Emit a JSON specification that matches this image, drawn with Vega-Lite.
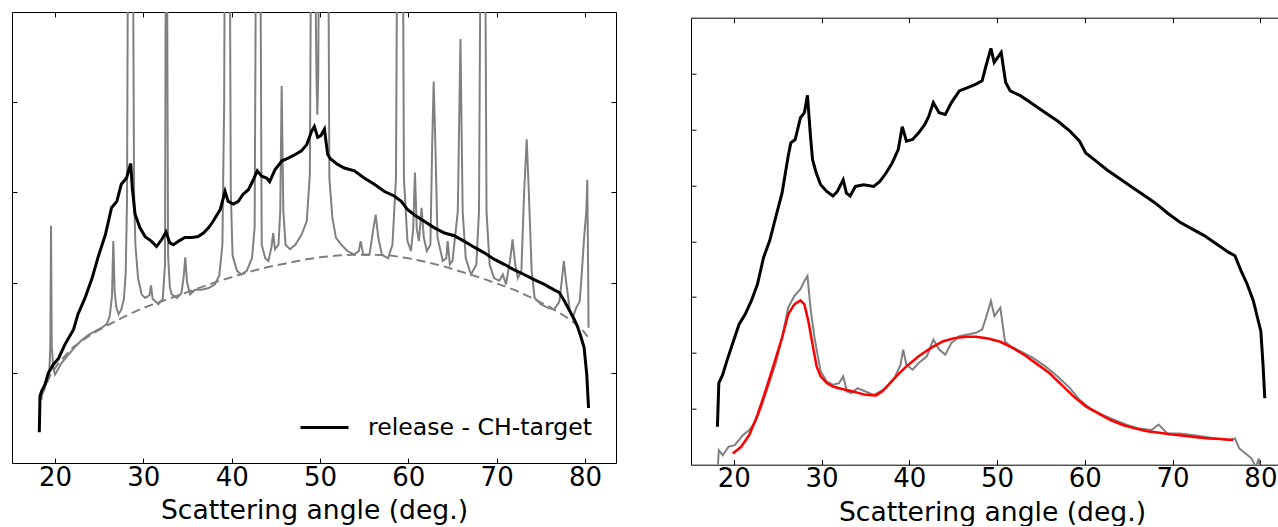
{
  "$schema": "https://vega.github.io/schema/vega-lite/v6.json",
  "padding": {"left": 11, "top": 11, "right": 0, "bottom": 0},
  "autosize": {"type": "pad"},
  "config": {
    "view": {"stroke": null},
    "font": "DejaVu Sans",
    "axis": {"grid": false, "domainColor": "#000", "domainWidth": 1, "tickColor": "#000", "tickSize": -5, "tickWidth": 1, "labelFont": "DejaVu Sans", "labelColor": "#000", "titleFont": "DejaVu Sans", "titleColor": "#000", "titleFontWeight": "normal"},
    "concat": {"spacing": 73},
    "legend": {"orient": "bottom-right", "offset": 23, "padding": 0, "symbolType": "stroke", "symbolSize": 2304, "symbolStrokeWidth": 3, "labelFontSize": 23.6, "labelFont": "DejaVu Sans", "labelColor": "#000", "labelOffset": 18, "labelLimit": 400}
  },
  "resolve": {"scale": {"color": "independent"}, "legend": {"color": "independent"}},
  "datasets": {
    "L_dash": [
      {"angle": 18.5, "intensity": 0.75}, {"angle": 19.5, "intensity": 0.98}, {"angle": 20.5, "intensity": 1.12}, {"angle": 22, "intensity": 1.28},
      {"angle": 24, "intensity": 1.42}, {"angle": 26, "intensity": 1.53}, {"angle": 28, "intensity": 1.63}, {"angle": 30, "intensity": 1.72},
      {"angle": 32, "intensity": 1.79}, {"angle": 34, "intensity": 1.86}, {"angle": 36, "intensity": 1.93}, {"angle": 38, "intensity": 2.0},
      {"angle": 40, "intensity": 2.06}, {"angle": 42, "intensity": 2.12}, {"angle": 44, "intensity": 2.17}, {"angle": 46, "intensity": 2.21},
      {"angle": 48, "intensity": 2.25}, {"angle": 50, "intensity": 2.28}, {"angle": 52, "intensity": 2.3}, {"angle": 54, "intensity": 2.31},
      {"angle": 56, "intensity": 2.31}, {"angle": 58, "intensity": 2.3}, {"angle": 60, "intensity": 2.27}, {"angle": 62, "intensity": 2.23},
      {"angle": 64, "intensity": 2.18}, {"angle": 66, "intensity": 2.12}, {"angle": 68, "intensity": 2.06}, {"angle": 70, "intensity": 1.99},
      {"angle": 72, "intensity": 1.92}, {"angle": 74, "intensity": 1.83}, {"angle": 76, "intensity": 1.73}, {"angle": 78, "intensity": 1.61},
      {"angle": 79.5, "intensity": 1.5}, {"angle": 80.3, "intensity": 1.4}
    ],
    "L_gray": [
      {"angle": 18.45, "intensity": 0.7}, {"angle": 18.6, "intensity": 0.8}, {"angle": 18.87, "intensity": 0.85}, {"angle": 19.1, "intensity": 0.9},
      {"angle": 19.35, "intensity": 1.0}, {"angle": 19.47, "intensity": 1.3}, {"angle": 19.55, "intensity": 2.63}, {"angle": 19.63, "intensity": 1.3},
      {"angle": 19.8, "intensity": 1.05}, {"angle": 20.0, "intensity": 0.98}, {"angle": 20.75, "intensity": 1.11}, {"angle": 21.5, "intensity": 1.2},
      {"angle": 22.3, "intensity": 1.29}, {"angle": 23.0, "intensity": 1.36}, {"angle": 23.8, "intensity": 1.42}, {"angle": 24.5, "intensity": 1.46},
      {"angle": 25.3, "intensity": 1.5}, {"angle": 25.85, "intensity": 1.54}, {"angle": 26.2, "intensity": 1.63}, {"angle": 26.45, "intensity": 1.85},
      {"angle": 26.6, "intensity": 2.46}, {"angle": 26.75, "intensity": 1.9}, {"angle": 26.95, "intensity": 1.72}, {"angle": 27.2, "intensity": 1.65},
      {"angle": 27.5, "intensity": 1.7}, {"angle": 27.8, "intensity": 1.82}, {"angle": 28.0, "intensity": 2.1}, {"angle": 28.15, "intensity": 2.9},
      {"angle": 28.3, "intensity": 7}, {"angle": 28.5, "intensity": 6}, {"angle": 28.75, "intensity": 7.5}, {"angle": 28.95, "intensity": 3.0},
      {"angle": 29.1, "intensity": 2.42}, {"angle": 29.4, "intensity": 2.05}, {"angle": 29.8, "intensity": 1.87}, {"angle": 30.2, "intensity": 1.83},
      {"angle": 30.7, "intensity": 1.86}, {"angle": 30.87, "intensity": 1.97}, {"angle": 31.05, "intensity": 1.82}, {"angle": 31.7, "intensity": 1.76},
      {"angle": 32.2, "intensity": 1.82}, {"angle": 32.45, "intensity": 2.2}, {"angle": 32.6, "intensity": 8}, {"angle": 32.8, "intensity": 2.3},
      {"angle": 33.0, "intensity": 1.95}, {"angle": 33.2, "intensity": 1.87}, {"angle": 33.8, "intensity": 1.83}, {"angle": 34.3, "intensity": 1.88},
      {"angle": 34.55, "intensity": 2.05}, {"angle": 34.75, "intensity": 2.28}, {"angle": 34.95, "intensity": 2.0}, {"angle": 35.3, "intensity": 1.87},
      {"angle": 35.85, "intensity": 1.92}, {"angle": 36.6, "intensity": 1.92}, {"angle": 37.4, "intensity": 1.94}, {"angle": 38.1, "intensity": 1.98},
      {"angle": 38.6, "intensity": 2.08}, {"angle": 38.95, "intensity": 2.42}, {"angle": 39.15, "intensity": 4}, {"angle": 39.3, "intensity": 8},
      {"angle": 39.5, "intensity": 5}, {"angle": 39.7, "intensity": 8}, {"angle": 39.9, "intensity": 3}, {"angle": 40.1, "intensity": 2.3},
      {"angle": 40.6, "intensity": 2.13}, {"angle": 41.1, "intensity": 2.09}, {"angle": 41.7, "intensity": 2.13}, {"angle": 42.3, "intensity": 2.27},
      {"angle": 42.6, "intensity": 2.61}, {"angle": 42.85, "intensity": 8}, {"angle": 43.0, "intensity": 7}, {"angle": 43.15, "intensity": 8},
      {"angle": 43.4, "intensity": 2.42}, {"angle": 43.8, "intensity": 2.27}, {"angle": 44.15, "intensity": 2.24}, {"angle": 44.5, "intensity": 2.39},
      {"angle": 44.7, "intensity": 2.55}, {"angle": 44.9, "intensity": 2.37}, {"angle": 45.3, "intensity": 2.42}, {"angle": 45.5, "intensity": 2.79},
      {"angle": 45.66, "intensity": 4.18}, {"angle": 45.85, "intensity": 2.79}, {"angle": 46.1, "intensity": 2.42}, {"angle": 46.6, "intensity": 2.37},
      {"angle": 47.2, "intensity": 2.42}, {"angle": 47.9, "intensity": 2.53}, {"angle": 48.5, "intensity": 2.68}, {"angle": 48.85, "intensity": 3.2},
      {"angle": 49.05, "intensity": 7}, {"angle": 49.35, "intensity": 6.5}, {"angle": 49.6, "intensity": 4.3}, {"angle": 49.7, "intensity": 3.86},
      {"angle": 49.8, "intensity": 4.3}, {"angle": 50.0, "intensity": 8}, {"angle": 50.3, "intensity": 5.5}, {"angle": 50.6, "intensity": 6},
      {"angle": 50.85, "intensity": 8}, {"angle": 51.06, "intensity": 3.16}, {"angle": 51.4, "intensity": 2.72}, {"angle": 51.8, "intensity": 2.5},
      {"angle": 52.4, "intensity": 2.42}, {"angle": 53.1, "intensity": 2.35}, {"angle": 53.9, "intensity": 2.31}, {"angle": 54.4, "intensity": 2.35},
      {"angle": 54.6, "intensity": 2.46}, {"angle": 54.9, "intensity": 2.31}, {"angle": 55.6, "intensity": 2.31}, {"angle": 56.0, "intensity": 2.57},
      {"angle": 56.3, "intensity": 2.75}, {"angle": 56.6, "intensity": 2.5}, {"angle": 57.0, "intensity": 2.31}, {"angle": 57.7, "intensity": 2.27},
      {"angle": 58.2, "intensity": 2.42}, {"angle": 58.6, "intensity": 3.16}, {"angle": 58.85, "intensity": 8}, {"angle": 59.05, "intensity": 6},
      {"angle": 59.3, "intensity": 8}, {"angle": 59.5, "intensity": 3.16}, {"angle": 59.9, "intensity": 2.46}, {"angle": 60.3, "intensity": 2.35},
      {"angle": 60.55, "intensity": 2.6}, {"angle": 60.75, "intensity": 3.22}, {"angle": 60.95, "intensity": 2.6}, {"angle": 61.2, "intensity": 2.46},
      {"angle": 61.5, "intensity": 2.83}, {"angle": 61.75, "intensity": 2.5}, {"angle": 62.1, "intensity": 2.35}, {"angle": 62.5, "intensity": 2.42},
      {"angle": 62.7, "intensity": 3.53}, {"angle": 62.87, "intensity": 4.23}, {"angle": 63.06, "intensity": 3.53}, {"angle": 63.3, "intensity": 2.5},
      {"angle": 63.9, "intensity": 2.24}, {"angle": 64.3, "intensity": 2.27}, {"angle": 64.45, "intensity": 2.46}, {"angle": 64.7, "intensity": 2.2},
      {"angle": 65.0, "intensity": 2.24}, {"angle": 65.6, "intensity": 2.79}, {"angle": 65.9, "intensity": 4.7}, {"angle": 66.15, "intensity": 2.79},
      {"angle": 66.5, "intensity": 2.27}, {"angle": 67.1, "intensity": 2.09}, {"angle": 67.7, "intensity": 2.2}, {"angle": 68.0, "intensity": 2.79},
      {"angle": 68.3, "intensity": 8}, {"angle": 68.45, "intensity": 7}, {"angle": 68.6, "intensity": 8}, {"angle": 68.85, "intensity": 2.79},
      {"angle": 69.2, "intensity": 2.2}, {"angle": 69.7, "intensity": 2.05}, {"angle": 70.3, "intensity": 2.02}, {"angle": 70.7, "intensity": 2.09},
      {"angle": 71.06, "intensity": 1.98}, {"angle": 71.55, "intensity": 2.27}, {"angle": 71.8, "intensity": 2.48}, {"angle": 72.1, "intensity": 2.2},
      {"angle": 72.4, "intensity": 2.05}, {"angle": 72.8, "intensity": 2.13}, {"angle": 73.1, "intensity": 2.98}, {"angle": 73.4, "intensity": 3.59},
      {"angle": 73.65, "intensity": 2.98}, {"angle": 73.96, "intensity": 2.13}, {"angle": 74.3, "intensity": 1.83}, {"angle": 75.0, "intensity": 1.76},
      {"angle": 75.8, "intensity": 1.72}, {"angle": 76.5, "intensity": 1.7}, {"angle": 77.1, "intensity": 1.79}, {"angle": 77.4, "intensity": 2.05},
      {"angle": 77.6, "intensity": 2.24}, {"angle": 77.9, "intensity": 1.98}, {"angle": 78.3, "intensity": 1.68}, {"angle": 78.6, "intensity": 1.61},
      {"angle": 79.0, "intensity": 1.72}, {"angle": 79.4, "intensity": 1.79}, {"angle": 79.6, "intensity": 2.05}, {"angle": 79.9, "intensity": 2.5},
      {"angle": 80.15, "intensity": 2.79}, {"angle": 80.26, "intensity": 3.14}, {"angle": 80.35, "intensity": 2.2}, {"angle": 80.4, "intensity": 1.5}
    ],
    "L_black": [
      {"angle": 18.22, "intensity": 0.34}, {"angle": 18.3, "intensity": 0.74}, {"angle": 18.5, "intensity": 0.8}, {"angle": 18.87, "intensity": 0.87},
      {"angle": 19.25, "intensity": 1.0}, {"angle": 19.8, "intensity": 1.09}, {"angle": 20.4, "intensity": 1.16}, {"angle": 21.1, "intensity": 1.31},
      {"angle": 22.1, "intensity": 1.48}, {"angle": 22.6, "intensity": 1.65}, {"angle": 23.4, "intensity": 1.83}, {"angle": 24.2, "intensity": 2.05},
      {"angle": 24.9, "intensity": 2.29}, {"angle": 25.7, "intensity": 2.53}, {"angle": 26.4, "intensity": 2.83}, {"angle": 27.0, "intensity": 2.9},
      {"angle": 27.5, "intensity": 3.09}, {"angle": 28.1, "intensity": 3.16}, {"angle": 28.57, "intensity": 3.32}, {"angle": 28.75, "intensity": 3.05},
      {"angle": 29.06, "intensity": 2.76}, {"angle": 29.6, "intensity": 2.61}, {"angle": 30.2, "intensity": 2.51}, {"angle": 30.9, "intensity": 2.46},
      {"angle": 31.5, "intensity": 2.4}, {"angle": 32.1, "intensity": 2.48}, {"angle": 32.57, "intensity": 2.56}, {"angle": 33.0, "intensity": 2.44},
      {"angle": 33.4, "intensity": 2.42}, {"angle": 34.0, "intensity": 2.46}, {"angle": 34.7, "intensity": 2.5}, {"angle": 35.5, "intensity": 2.5},
      {"angle": 36.2, "intensity": 2.51}, {"angle": 36.8, "intensity": 2.55}, {"angle": 37.4, "intensity": 2.61}, {"angle": 37.9, "intensity": 2.68},
      {"angle": 38.7, "intensity": 2.81}, {"angle": 39.25, "intensity": 3.01}, {"angle": 39.6, "intensity": 2.9}, {"angle": 40.2, "intensity": 2.87},
      {"angle": 40.75, "intensity": 2.9}, {"angle": 41.3, "intensity": 2.98}, {"angle": 41.9, "intensity": 3.03}, {"angle": 42.45, "intensity": 3.14},
      {"angle": 42.9, "intensity": 3.24}, {"angle": 43.4, "intensity": 3.18}, {"angle": 43.96, "intensity": 3.16}, {"angle": 44.3, "intensity": 3.12},
      {"angle": 44.9, "intensity": 3.25}, {"angle": 45.7, "intensity": 3.35}, {"angle": 46.4, "intensity": 3.38}, {"angle": 47.2, "intensity": 3.42},
      {"angle": 47.9, "intensity": 3.46}, {"angle": 48.5, "intensity": 3.53}, {"angle": 49.06, "intensity": 3.68}, {"angle": 49.36, "intensity": 3.73},
      {"angle": 49.74, "intensity": 3.61}, {"angle": 50.1, "intensity": 3.63}, {"angle": 50.5, "intensity": 3.7}, {"angle": 50.87, "intensity": 3.42},
      {"angle": 51.2, "intensity": 3.37}, {"angle": 52.0, "intensity": 3.31}, {"angle": 52.75, "intensity": 3.27}, {"angle": 53.9, "intensity": 3.24},
      {"angle": 55.0, "intensity": 3.16}, {"angle": 56.15, "intensity": 3.09}, {"angle": 57.3, "intensity": 3.01}, {"angle": 58.4, "intensity": 2.96},
      {"angle": 59.2, "intensity": 2.9}, {"angle": 59.9, "intensity": 2.81}, {"angle": 60.7, "intensity": 2.75}, {"angle": 61.8, "intensity": 2.68},
      {"angle": 62.9, "intensity": 2.61}, {"angle": 64.1, "intensity": 2.55}, {"angle": 65.2, "intensity": 2.52}, {"angle": 66.3, "intensity": 2.46},
      {"angle": 67.5, "intensity": 2.39}, {"angle": 68.6, "intensity": 2.33}, {"angle": 69.7, "intensity": 2.26}, {"angle": 70.9, "intensity": 2.2},
      {"angle": 72.0, "intensity": 2.14}, {"angle": 73.1, "intensity": 2.09}, {"angle": 74.3, "intensity": 2.03}, {"angle": 75.4, "intensity": 1.98},
      {"angle": 76.5, "intensity": 1.92}, {"angle": 77.1, "intensity": 1.89}, {"angle": 77.7, "intensity": 1.79}, {"angle": 78.2, "intensity": 1.7},
      {"angle": 78.8, "intensity": 1.59}, {"angle": 79.2, "intensity": 1.5}, {"angle": 79.5, "intensity": 1.41}, {"angle": 79.9, "intensity": 1.28},
      {"angle": 80.2, "intensity": 0.98}, {"angle": 80.4, "intensity": 0.61}
    ],
    "R_black": [
      {"angle": 18.14, "intensity": 0.68}, {"angle": 18.3, "intensity": 1.46}, {"angle": 18.74, "intensity": 1.61}, {"angle": 19.2, "intensity": 1.85},
      {"angle": 19.77, "intensity": 2.12}, {"angle": 20.6, "intensity": 2.51}, {"angle": 21.3, "intensity": 2.69}, {"angle": 22.0, "intensity": 2.93},
      {"angle": 22.7, "intensity": 3.23}, {"angle": 23.4, "intensity": 3.71}, {"angle": 24.1, "intensity": 4.01}, {"angle": 24.8, "intensity": 4.44},
      {"angle": 25.5, "intensity": 4.86}, {"angle": 26.2, "intensity": 5.52}, {"angle": 26.5, "intensity": 5.76}, {"angle": 27.0, "intensity": 5.82},
      {"angle": 27.6, "intensity": 6.21}, {"angle": 28.05, "intensity": 6.3}, {"angle": 28.4, "intensity": 6.61}, {"angle": 28.74, "intensity": 5.88},
      {"angle": 28.98, "intensity": 5.46}, {"angle": 29.4, "intensity": 5.22}, {"angle": 29.9, "intensity": 5.01}, {"angle": 30.6, "intensity": 4.89},
      {"angle": 31.3, "intensity": 4.81}, {"angle": 31.8, "intensity": 4.89}, {"angle": 32.47, "intensity": 5.1}, {"angle": 32.84, "intensity": 4.86},
      {"angle": 33.26, "intensity": 4.81}, {"angle": 33.86, "intensity": 4.98}, {"angle": 34.8, "intensity": 5.01}, {"angle": 35.95, "intensity": 4.98},
      {"angle": 36.65, "intensity": 5.07}, {"angle": 37.35, "intensity": 5.22}, {"angle": 38.05, "intensity": 5.4}, {"angle": 38.74, "intensity": 5.64},
      {"angle": 39.2, "intensity": 6.05}, {"angle": 39.67, "intensity": 5.79}, {"angle": 40.37, "intensity": 5.82}, {"angle": 41.07, "intensity": 5.94},
      {"angle": 41.77, "intensity": 6.09}, {"angle": 42.23, "intensity": 6.24}, {"angle": 42.74, "intensity": 6.48}, {"angle": 43.4, "intensity": 6.3},
      {"angle": 44.1, "intensity": 6.27}, {"angle": 44.8, "intensity": 6.48}, {"angle": 45.7, "intensity": 6.69}, {"angle": 46.65, "intensity": 6.75},
      {"angle": 47.6, "intensity": 6.81}, {"angle": 48.3, "intensity": 6.87}, {"angle": 48.74, "intensity": 7.14}, {"angle": 49.3, "intensity": 7.45},
      {"angle": 49.67, "intensity": 7.2}, {"angle": 50.47, "intensity": 7.38}, {"angle": 50.98, "intensity": 6.84}, {"angle": 51.5, "intensity": 6.69},
      {"angle": 52.7, "intensity": 6.6}, {"angle": 54.1, "intensity": 6.45}, {"angle": 55.5, "intensity": 6.3}, {"angle": 56.9, "intensity": 6.15},
      {"angle": 58.3, "intensity": 5.97}, {"angle": 59.4, "intensity": 5.79}, {"angle": 60.1, "intensity": 5.58}, {"angle": 61.07, "intensity": 5.46},
      {"angle": 62.5, "intensity": 5.28}, {"angle": 63.86, "intensity": 5.13}, {"angle": 65.26, "intensity": 4.98}, {"angle": 66.65, "intensity": 4.83},
      {"angle": 68.05, "intensity": 4.68}, {"angle": 69.44, "intensity": 4.5}, {"angle": 70.84, "intensity": 4.34}, {"angle": 72.2, "intensity": 4.22},
      {"angle": 73.6, "intensity": 4.1}, {"angle": 75.0, "intensity": 3.95}, {"angle": 76.4, "intensity": 3.8}, {"angle": 77.1, "intensity": 3.74},
      {"angle": 77.8, "intensity": 3.47}, {"angle": 78.5, "intensity": 3.23}, {"angle": 79.2, "intensity": 2.93}, {"angle": 79.67, "intensity": 2.63},
      {"angle": 80.05, "intensity": 2.39}, {"angle": 80.3, "intensity": 1.79}, {"angle": 80.5, "intensity": 1.19}
    ],
    "R_gray": [
      {"angle": 18.2, "intensity": 0.0}, {"angle": 18.3, "intensity": 0.26}, {"angle": 18.74, "intensity": 0.17}, {"angle": 19.4, "intensity": 0.32},
      {"angle": 20.1, "intensity": 0.35}, {"angle": 21.07, "intensity": 0.53}, {"angle": 21.77, "intensity": 0.62}, {"angle": 22.47, "intensity": 0.77},
      {"angle": 23.16, "intensity": 1.04}, {"angle": 23.86, "intensity": 1.37}, {"angle": 24.8, "intensity": 1.82}, {"angle": 25.5, "intensity": 2.27},
      {"angle": 26.2, "intensity": 2.81}, {"angle": 26.9, "intensity": 3.02}, {"angle": 27.6, "intensity": 3.14}, {"angle": 28.05, "intensity": 3.29},
      {"angle": 28.4, "intensity": 3.38}, {"angle": 28.74, "intensity": 2.81}, {"angle": 29.2, "intensity": 2.27}, {"angle": 29.9, "intensity": 1.67},
      {"angle": 30.6, "intensity": 1.49}, {"angle": 31.3, "intensity": 1.43}, {"angle": 32.0, "intensity": 1.46}, {"angle": 32.47, "intensity": 1.58},
      {"angle": 32.9, "intensity": 1.31}, {"angle": 33.4, "intensity": 1.28}, {"angle": 34.1, "intensity": 1.37}, {"angle": 35.0, "intensity": 1.31},
      {"angle": 35.95, "intensity": 1.25}, {"angle": 36.65, "intensity": 1.31}, {"angle": 37.35, "intensity": 1.37}, {"angle": 38.3, "intensity": 1.55},
      {"angle": 39.0, "intensity": 1.79}, {"angle": 39.3, "intensity": 2.06}, {"angle": 39.67, "intensity": 1.79}, {"angle": 40.37, "intensity": 1.7},
      {"angle": 41.07, "intensity": 1.82}, {"angle": 42.0, "intensity": 1.94}, {"angle": 42.74, "intensity": 2.24}, {"angle": 43.4, "intensity": 2.06},
      {"angle": 44.1, "intensity": 1.97}, {"angle": 44.8, "intensity": 2.18}, {"angle": 45.7, "intensity": 2.3}, {"angle": 46.65, "intensity": 2.33},
      {"angle": 47.6, "intensity": 2.36}, {"angle": 48.3, "intensity": 2.42}, {"angle": 48.74, "intensity": 2.63}, {"angle": 49.3, "intensity": 2.93},
      {"angle": 49.7, "intensity": 2.66}, {"angle": 50.37, "intensity": 2.81}, {"angle": 50.9, "intensity": 2.21}, {"angle": 51.5, "intensity": 2.12},
      {"angle": 52.7, "intensity": 2.03}, {"angle": 54.1, "intensity": 1.91}, {"angle": 55.5, "intensity": 1.76}, {"angle": 56.9, "intensity": 1.58},
      {"angle": 58.3, "intensity": 1.37}, {"angle": 59.4, "intensity": 1.16}, {"angle": 60.6, "intensity": 1.01}, {"angle": 62.0, "intensity": 0.89},
      {"angle": 63.4, "intensity": 0.8}, {"angle": 64.8, "intensity": 0.71}, {"angle": 66.2, "intensity": 0.65}, {"angle": 67.6, "intensity": 0.62},
      {"angle": 68.4, "intensity": 0.72}, {"angle": 69.4, "intensity": 0.56}, {"angle": 70.8, "intensity": 0.56}, {"angle": 72.2, "intensity": 0.53},
      {"angle": 73.6, "intensity": 0.5}, {"angle": 75.0, "intensity": 0.47}, {"angle": 76.4, "intensity": 0.44}, {"angle": 77.1, "intensity": 0.47},
      {"angle": 77.6, "intensity": 0.29}, {"angle": 78.3, "intensity": 0.2}, {"angle": 79.0, "intensity": 0.11}, {"angle": 79.5, "intensity": -0.05},
      {"angle": 79.8, "intensity": 0.11}, {"angle": 79.95, "intensity": -0.05}
    ],
    "R_red": [
      {"angle": 19.9, "intensity": 0.2}, {"angle": 20.84, "intensity": 0.32}, {"angle": 21.77, "intensity": 0.53}, {"angle": 22.7, "intensity": 0.89},
      {"angle": 23.6, "intensity": 1.31}, {"angle": 24.56, "intensity": 1.79}, {"angle": 25.5, "intensity": 2.27}, {"angle": 26.2, "intensity": 2.69},
      {"angle": 26.9, "intensity": 2.87}, {"angle": 27.6, "intensity": 2.94}, {"angle": 28.05, "intensity": 2.87}, {"angle": 28.5, "intensity": 2.57},
      {"angle": 28.98, "intensity": 2.15}, {"angle": 29.44, "intensity": 1.76}, {"angle": 29.9, "intensity": 1.58}, {"angle": 30.6, "intensity": 1.46},
      {"angle": 31.3, "intensity": 1.4}, {"angle": 32.2, "intensity": 1.36}, {"angle": 33.6, "intensity": 1.31}, {"angle": 35.0, "intensity": 1.25},
      {"angle": 36.2, "intensity": 1.24}, {"angle": 36.9, "intensity": 1.31}, {"angle": 37.8, "intensity": 1.46}, {"angle": 38.7, "intensity": 1.61},
      {"angle": 39.67, "intensity": 1.76}, {"angle": 41.07, "intensity": 1.94}, {"angle": 42.47, "intensity": 2.09}, {"angle": 43.86, "intensity": 2.21},
      {"angle": 45.26, "intensity": 2.27}, {"angle": 46.65, "intensity": 2.29}, {"angle": 47.6, "intensity": 2.29}, {"angle": 48.98, "intensity": 2.26},
      {"angle": 50.37, "intensity": 2.2}, {"angle": 51.77, "intensity": 2.09}, {"angle": 53.16, "intensity": 1.96}, {"angle": 54.56, "intensity": 1.8},
      {"angle": 55.95, "intensity": 1.64}, {"angle": 57.35, "intensity": 1.43}, {"angle": 58.74, "intensity": 1.22}, {"angle": 60.14, "intensity": 1.04},
      {"angle": 61.53, "intensity": 0.92}, {"angle": 62.93, "intensity": 0.8}, {"angle": 64.33, "intensity": 0.71}, {"angle": 65.7, "intensity": 0.65},
      {"angle": 67.1, "intensity": 0.6}, {"angle": 68.5, "intensity": 0.57}, {"angle": 69.9, "intensity": 0.54}, {"angle": 71.3, "intensity": 0.52},
      {"angle": 72.7, "intensity": 0.49}, {"angle": 74.1, "intensity": 0.47}, {"angle": 75.5, "intensity": 0.46}, {"angle": 76.9, "intensity": 0.44}
    ],
    "spacer": [{"angle": 50, "intensity": 0}]
  },
  "hconcat": [
    {
      "width": 604,
      "height": 451,
      "resolve": {"axis": {"x": "independent", "y": "independent"}},
      "layer": [
        {
          "data": {"name": "L_dash"},
          "mark": {"type": "line", "color": "#808080", "strokeWidth": 2, "strokeDash": [9, 5], "clip": true},
          "encoding": {
            "x": {"field": "angle", "type": "quantitative", "scale": {"domain": [15.13, 83.51], "nice": false, "zero": false},
                  "axis": {"orient": "bottom", "values": [20, 30, 40, 50, 60, 70, 80], "format": "d", "labelFontSize": 26, "labelPadding": 6.2, "title": "Scattering angle (deg.)", "titleFontSize": 26.6, "titlePadding": 7.2}},
            "y": {"field": "intensity", "type": "quantitative", "scale": {"domain": [0, 5], "nice": false, "zero": false},
                  "axis": {"orient": "left", "values": [1, 2, 3, 4], "labels": false, "title": null}}
          }
        },
        {
          "data": {"name": "L_gray"},
          "mark": {"type": "line", "color": "#808080", "strokeWidth": 2, "clip": true},
          "encoding": {
            "x": {"field": "angle", "type": "quantitative", "scale": {"domain": [15.13, 83.51], "nice": false, "zero": false},
                  "axis": {"orient": "top", "values": [20, 30, 40, 50, 60, 70, 80], "labels": false, "title": null}},
            "y": {"field": "intensity", "type": "quantitative", "scale": {"domain": [0, 5], "nice": false, "zero": false},
                  "axis": {"orient": "right", "values": [1, 2, 3, 4], "labels": false, "title": null}}
          }
        },
        {
          "data": {"name": "L_black"},
          "mark": {"type": "line", "strokeWidth": 3, "clip": true},
          "encoding": {
            "x": {"field": "angle", "type": "quantitative", "scale": {"domain": [15.13, 83.51], "nice": false, "zero": false}, "axis": null},
            "y": {"field": "intensity", "type": "quantitative", "scale": {"domain": [0, 5], "nice": false, "zero": false}, "axis": null},
            "color": {"datum": "release - CH-target", "type": "nominal", "scale": {"range": ["#000000"]}, "legend": {"title": null, "orient": "bottom-right", "offset": 23}}
          }
        }
      ]
    },
    {
      "spacing": 3.7,
      "vconcat": [
        {
          "width": 588,
          "height": 1,
          "data": {"name": "spacer"},
          "mark": {"type": "point", "opacity": 0, "size": 0, "strokeWidth": 0},
          "encoding": {}
        },
        {
          "width": 588,
          "height": 447,
          "resolve": {"axis": {"x": "independent", "y": "independent"}},
          "layer": [
            {
              "data": {"name": "R_gray"},
              "mark": {"type": "line", "color": "#808080", "strokeWidth": 2, "clip": true},
              "encoding": {
                "x": {"field": "angle", "type": "quantitative", "scale": {"domain": [15.13, 82.12], "nice": false, "zero": false},
                      "axis": {"orient": "bottom", "values": [20, 30, 40, 50, 60, 70, 80], "format": "d", "labelFontSize": 26, "labelPadding": 6.2, "title": "Scattering angle (deg.)", "titleFontSize": 26.6, "titlePadding": 7.2, "titleX": 301}},
                "y": {"field": "intensity", "type": "quantitative", "scale": {"domain": [0, 8], "nice": false, "zero": false},
                      "axis": {"orient": "left", "values": [1, 2, 3, 4, 5, 6, 7], "labels": false, "title": null}}
              }
            },
            {
              "data": {"name": "R_red"},
              "mark": {"type": "line", "color": "#ff0000", "strokeWidth": 2.5, "clip": true},
              "encoding": {
                "x": {"field": "angle", "type": "quantitative", "scale": {"domain": [15.13, 82.12], "nice": false, "zero": false},
                      "axis": {"orient": "top", "values": [20, 30, 40, 50, 60, 70, 80], "labels": false, "title": null}},
                "y": {"field": "intensity", "type": "quantitative", "scale": {"domain": [0, 8], "nice": false, "zero": false}, "axis": null}
              }
            },
            {
              "data": {"name": "R_black"},
              "mark": {"type": "line", "color": "#000000", "strokeWidth": 3, "clip": true},
              "encoding": {
                "x": {"field": "angle", "type": "quantitative", "scale": {"domain": [15.13, 82.12], "nice": false, "zero": false}, "axis": null},
                "y": {"field": "intensity", "type": "quantitative", "scale": {"domain": [0, 8], "nice": false, "zero": false}, "axis": null}
              }
            }
          ]
        }
      ]
    }
  ]
}
